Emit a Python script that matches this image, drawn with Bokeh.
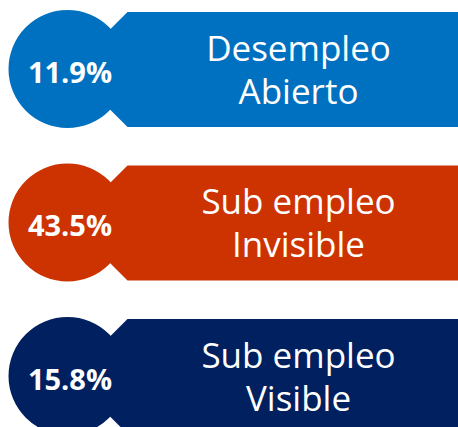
from bokeh.plotting import figure
from bokeh.models import Range1d
from bokeh.core.properties import value
from bokeh.embed import file_html
from bokeh.resources import INLINE

# Data
values = [11.9, 43.5, 15.8]
line1 = ["Desempleo", "Sub empleo", "Sub empleo"]
line2 = ["Abierto", "Invisible", "Visible"]
colors = ["#0070C0", "#CC3300", "#002060"]

W, H = 458, 427
p = figure(width=W, height=H, output_backend="svg", toolbar_location=None,
           x_range=Range1d(0, W), y_range=Range1d(H, 0), min_border=0,
           outline_line_color=None, background_fill_color="white")
p.axis.visible = False
p.grid.visible = False

cx = 67
cys = [68.5 + 153.5 * i for i in range(len(values))]
r = 59
xs, ys = [], []
for cy in cys:
    top, bot = cy - 57, cy + 58
    left = 127
    mid = (top + bot) / 2
    xs.append([left, W + 20, W + 20, left, left - (bot - top) / 2])
    ys.append([top, top, bot, bot, mid])

p.patches(xs, ys, fill_color=colors, line_color=None)
p.circle([cx] * len(cys), cys, radius=r, fill_color=colors, line_color=None)

pct = [f"{v:.1f}%" for v in values]
p.text([69.5] * len(cys), [cy + 2 for cy in cys], text=pct,
       text_align="center", text_baseline="middle",
       text_font=value("Open Sans"), text_font_style="bold",
       text_font_size="29px", text_color="white")

tx = 298
p.text([tx] * len(cys), [cy - 22 for cy in cys], text=line1,
       text_align="center", text_baseline="middle",
       text_font=value("Open Sans"), text_font_size="35px", text_color="white")
p.text([tx] * len(cys), [cy + 21 for cy in cys], text=line2,
       text_align="center", text_baseline="middle",
       text_font=value("Open Sans"), text_font_size="35px", text_color="white")

open("out.html", "w").write(file_html(p, INLINE))
